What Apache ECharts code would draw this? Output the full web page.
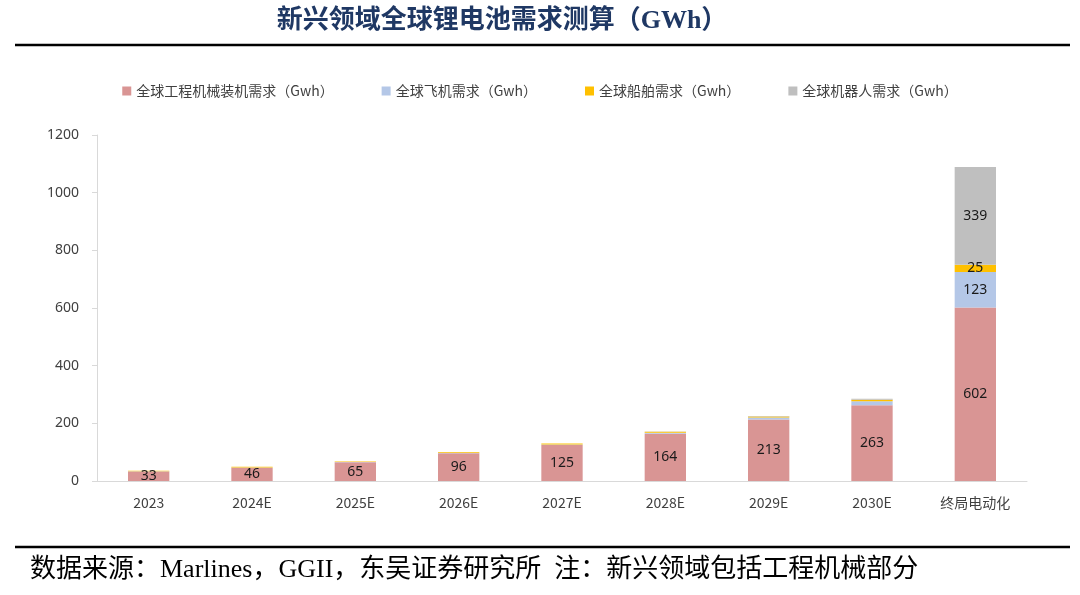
<!DOCTYPE html>
<html>
<head>
<meta charset="utf-8">
<script src="https://cdn.jsdelivr.net/npm/echarts@6/dist/echarts.min.js"></script>
<style>
html,body{margin:0;padding:0;background:#fff;}
#chart{width:1080px;height:595px;}
</style>
</head>
<body>
<div id="chart"></div>
<script>
const categories = ['2023','2024E','2025E','2026E','2027E','2028E','2029E','2030E','终局电动化'];
const machinery = [33, 46, 65, 96, 125, 164, 213, 263, 602];
const plane = [0.5, 1, 1, 2, 2, 3, 7, 14, 123];
const ship = [2, 2, 2, 3, 3, 4, 4, 5, 25];
const robot = [0, 0, 0, 0, 0.2, 0.5, 1.5, 3, 339];
const seriesNames = ['全球工程机械装机需求（Gwh）','全球飞机需求（Gwh）','全球船舶需求（Gwh）','全球机器人需求（Gwh）'];
const yTicks = [0, 200, 400, 600, 800, 1000, 1200];

const colors = ['#D99594', '#B4C7E7', '#FFC000', '#BFBFBF'];
const lastIdx = categories.length - 1;

function lastOnly(arr) {
  return arr.map((v, i) => i === lastIdx ? {value: v, label: {show: true}} : v);
}

const chart = echarts.init(document.getElementById('chart'));
const labelStyle = {color: '#1a1a1a', fontSize: 14, fontFamily: 'Noto Sans, sans-serif', position: 'inside'};
chart.setOption({
  animation: false,
  color: colors,
  title: {
    text: '新兴领域全球锂电池需求测算（GWh）',
    left: 497, top: 3, textAlign: 'center',
    textStyle: {color: '#1F3864', fontSize: 26, fontWeight: 'bold', fontFamily: 'Liberation Serif, Noto Sans CJK SC, serif'}
  },
  graphic: [
    {type: 'line', shape: {x1: 15, y1: 45, x2: 1070, y2: 45}, style: {stroke: '#000', lineWidth: 2.5}},
    {type: 'line', shape: {x1: 15, y1: 547, x2: 1070, y2: 547}, style: {stroke: '#000', lineWidth: 2.5}},
    {type: 'text', left: 30, top: 557, style: {text: '数据来源：Marlines，GGII，东吴证券研究所  注：新兴领域包括工程机械部分', fill: '#000', fontSize: 26, fontFamily: 'Liberation Serif, Noto Sans CJK SC, serif'}}
  ],
  legend: {
    top: 79, left: 'center', itemWidth: 9, itemHeight: 9, itemGap: 48,
    icon: 'rect',
    textStyle: {color: '#404040', fontSize: 14, fontFamily: 'Noto Sans CJK SC, sans-serif'},
    data: seriesNames
  },
  grid: {left: 97, right: 53, top: 135, bottom: 114, containLabel: false},
  xAxis: {
    type: 'category', data: categories,
    axisLine: {lineStyle: {color: '#D9D9D9', width: 1}},
    axisTick: {show: false},
    axisLabel: {color: '#404040', fontSize: 14, margin: 15, fontFamily: 'Noto Sans CJK SC, sans-serif'}
  },
  yAxis: {
    type: 'value', min: yTicks[0], max: yTicks[yTicks.length - 1], interval: 200,
    axisLine: {show: true, lineStyle: {color: '#D9D9D9'}},
    axisTick: {show: true, length: 5, lineStyle: {color: '#D9D9D9'}},
    splitLine: {show: false},
    axisLabel: {color: '#404040', fontSize: 14, margin: 18, fontFamily: 'Noto Sans, sans-serif', formatter: v => String(v)}
  },
  series: [
    {name: seriesNames[0], type: 'bar', stack: 't', data: machinery, barWidth: '40%', label: Object.assign({show: true}, labelStyle)},
    {name: seriesNames[1], type: 'bar', stack: 't', data: lastOnly(plane), label: Object.assign({show: false}, labelStyle)},
    {name: seriesNames[2], type: 'bar', stack: 't', data: lastOnly(ship), label: Object.assign({show: false}, labelStyle)},
    {name: seriesNames[3], type: 'bar', stack: 't', data: lastOnly(robot), label: Object.assign({show: false}, labelStyle)}
  ]
});
</script>
</body>
</html>
